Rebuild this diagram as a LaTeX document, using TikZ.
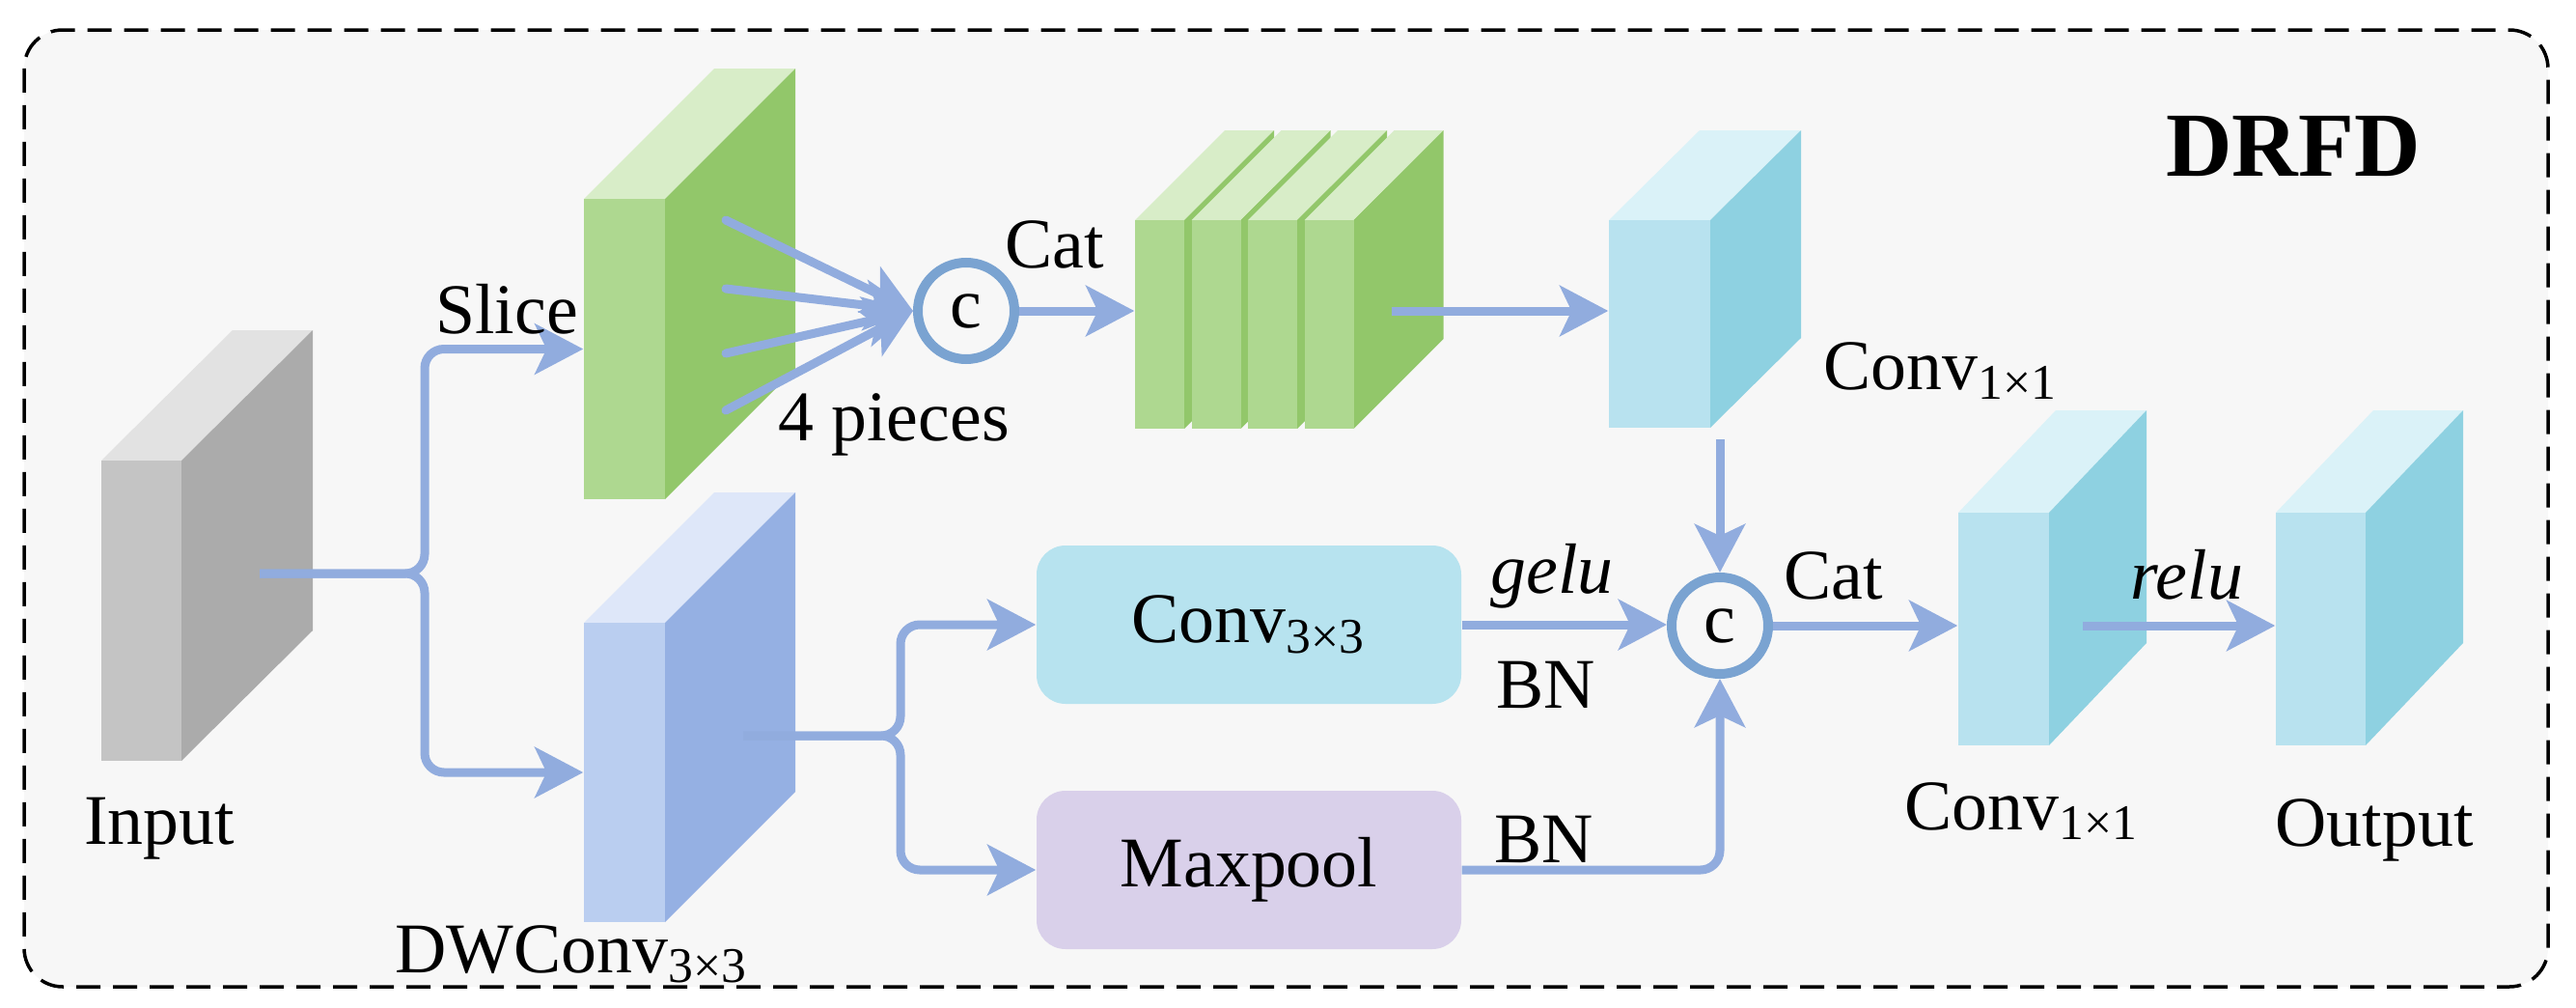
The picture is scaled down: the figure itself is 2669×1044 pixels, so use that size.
\documentclass[tikz,border=0pt]{standalone}
\usepackage{fontspec}
\setmainfont{Liberation Serif}
\usetikzlibrary{arrows.meta, positioning}

\definecolor{grayT}{HTML}{E2E2E2}
\definecolor{grayF}{HTML}{C4C4C4}
\definecolor{grayS}{HTML}{ABABAB}
\definecolor{greenT}{HTML}{D8EDC8}
\definecolor{greenF}{HTML}{AED890}
\definecolor{greenS}{HTML}{92C76A}
\definecolor{blueT}{HTML}{DEE7F9}
\definecolor{blueF}{HTML}{BACEF0}
\definecolor{blueS}{HTML}{95B0E3}
\definecolor{cyanT}{HTML}{DAF2F8}
\definecolor{cyanF}{HTML}{B8E2EF}
\definecolor{cyanS}{HTML}{8ED1E1}
\definecolor{lineC}{HTML}{91ACDE}
\definecolor{ringC}{HTML}{7AA3D1}
\definecolor{convC}{HTML}{B7E3EF}
\definecolor{poolC}{HTML}{D9D0EA}
\definecolor{bgC}{HTML}{F7F7F7}

\tikzset{
  lbl/.style={font=\fontsize{21}{25}\selectfont, inner sep=0pt, anchor=base},
  conn/.style={draw=lineC, line width=0.9mm, rounded corners=2mm,
    -{Stealth[length=5mm, width=5.2mm, inset=1.2mm]}},
  catnode/.style={circle, draw=ringC, line width=1mm, fill=bgC, minimum size=10mm,
    inner sep=0pt, font=\fontsize{21}{25}\selectfont},
  opbox/.style={rounded corners=3mm, minimum width=44mm, minimum height=16.4mm,
    inner sep=0pt, font=\fontsize{21}{25}\selectfont},
}

\begin{document}
\begin{tikzpicture}[x=0.1mm, y=-0.1mm]
\useasboundingbox (0,0) rectangle (2669,1044);
\draw [dash pattern=on 2.5mm off 1.3mm, line width=0.35mm, fill=bgC, rounded corners=4mm]
  (25,31) rectangle (2640,1022);

% feature maps: name/x/y/width/height/dx/dy/colour
\foreach \nm/\x/\y/\w/\h/\dx/\dy/\cl in {input/105/477/83/311/136/135/gray,
    slice/605/206/84/311/135/135/green, dw/605/645/84/310/135/135/blue,
    convA/1667/228/105/215/94/93/cyan, convB/2029/531/94/241/101/106/cyan,
    output/2358/531/93/241/101/106/cyan} {
  \fill [\cl T] (\x,\y) -- ++(\dx,-\dy) -- ++(\w,0) -- ++(-\dx,\dy) -- cycle;
  \fill [\cl S] (\x+\w,\y) -- ++(\dx,-\dy) -- ++(0,\h) -- ++(-\dx,\dy) -- cycle;
  \fill [\cl F] (\x,\y) rectangle ++(\w,\h);
  \node [inner sep=0pt, minimum width=\w*0.1mm, minimum height=\h*0.1mm]
    (\nm) at (\x+\w/2,\y+\h/2) {};
}
% concatenated slices
\foreach \i in {0,...,3} {
  \pgfmathsetmacro{\x}{1176+58.5*\i}
  \fill [greenT] (\x,228) -- ++(93,-93) -- ++(51,0) -- ++(-93,93) -- cycle;
  \fill [greenS] (\x+51,228) -- ++(93,-93) -- ++(0,216) -- ++(-93,93) -- cycle;
  \fill [greenF] (\x,228) rectangle ++(51,216);
  \node [inner sep=0pt, minimum width=5.1mm, minimum height=21.6mm]
    (stack\i) at (\x+25.5,336) {};
}

\node [catnode] (cat1) at (1001,322) {c};
\node [catnode] (cat2) at (1782,648) {c};
\node [opbox, fill=convC] (conv3) at (1294,647) {Conv\textsubscript{3×3}};
\node [opbox, fill=poolC] (pool) at (1294,901) {Maxpool};

\coordinate (inpt) at (269,594);
\coordinate (split1) at (440,594);
\coordinate (dwout) at (770,762);
\coordinate (split2) at (933,762);
\coordinate (stackout) at (1442,322);
\coordinate (convAout) at (1782,455);
\coordinate (convBout) at (2158,648);

\draw [conn] (inpt) -- (split1) |- (slice.west);
\draw [conn] (inpt) -- (split1) |- (dw.west);
\foreach \y [count=\i] in {228,299,366,425} {
  \coordinate (piece\i) at (752,\y);
  \draw [conn, line cap=round] (piece\i) -- (cat1.west);
}
\draw [conn] (cat1.east) -- (cat1.east -| stack0.west);
\draw [conn] (stackout) -- (stackout -| convA.west);
\draw [conn] (convAout) -- (cat2.north);
\draw [conn] (dwout) -- (split2) |- (conv3.west);
\draw [conn] (dwout) -- (split2) |- (pool.west);
\draw [conn] (conv3.east) -- (conv3.east -| cat2.west);
\draw [conn] (pool.east) -| (cat2.south);
\draw [conn] (cat2.east) -- (cat2.east -| convB.west);
\draw [conn] (convBout) -- (convBout -| output.west);

\node [lbl] at (165,874) {Input};
\node [lbl] at (525,345) {Slice};
\node [lbl] at (926,456) {4 pieces};
\node [lbl] at (1093,277) {Cat};
\node [lbl] at (2011,403) {Conv\textsubscript{1×1}};
\node [lbl] at (592,1007) {DWConv\textsubscript{3×3}};
\node [lbl] at (1608,614) {\textit{gelu}};
\node [lbl] at (1602,733) {BN};
\node [lbl] at (1600,893) {BN};
\node [lbl] at (1900,620) {Cat};
\node [lbl] at (2266,620) {\textit{relu}};
\node [lbl] at (2095,859) {Conv\textsubscript{1×1}};
\node [lbl] at (2460,876) {Output};
\node [lbl, font=\fontsize{27}{32}\selectfont\bfseries] at (2376,182) {DRFD};
\end{tikzpicture}
\end{document}
